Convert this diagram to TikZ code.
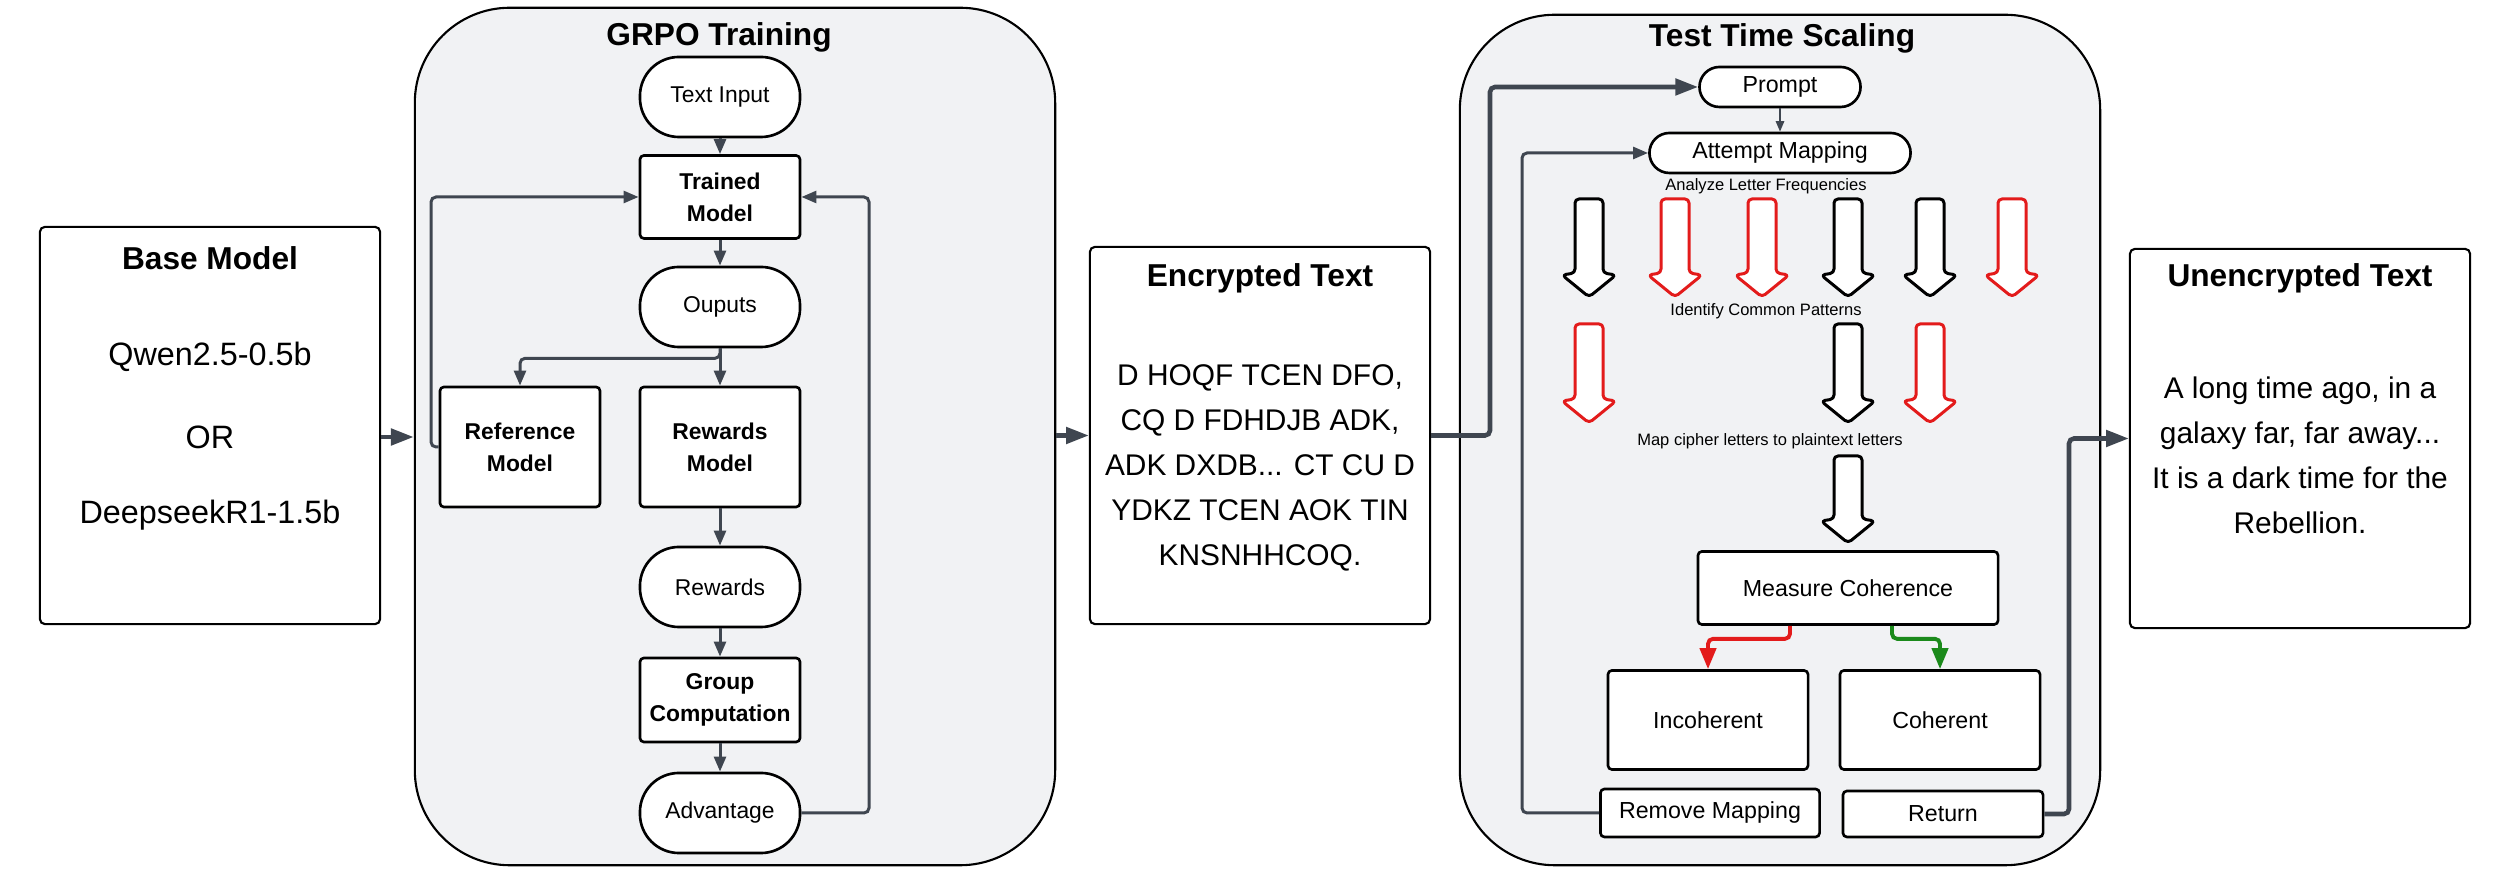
\documentclass[tikz,border=0pt]{standalone}
\usepackage{fontspec}
\setmainfont{Liberation Sans}
\usetikzlibrary{arrows.meta}

\definecolor{conncol}{HTML}{3F4650}
\definecolor{panelgray}{HTML}{F1F2F4}
\definecolor{badred}{HTML}{E31B1B}
\definecolor{goodgreen}{HTML}{1B8A1B}

\tikzset{
  panel/.style={draw=black, line width=0.6pt, fill=panelgray, rounded corners=0.95cm},
  card/.style={draw=black, line width=0.6pt, fill=white, rounded corners=0.05cm},
  title/.style={font=\bfseries\fontsize{9}{11}\selectfont, inner sep=0pt},
  bigtext/.style={font=\fontsize{9.2}{11}\selectfont, inner sep=0pt},
  cipher/.style={font=\fontsize{8.5}{12.8}\selectfont, align=center, inner sep=0pt},
  box/.style={draw=black, line width=0.75pt, fill=white, rounded corners=0.04cm,
    minimum width=1.6cm, align=center, inner sep=0pt,
    font=\bfseries\fontsize{6.5}{9.1}\selectfont},
  pill/.style={box, rounded corners=0.39cm, minimum height=0.8cm,
    font=\fontsize{6.5}{8}\selectfont},
  step box/.style={draw=black, line width=0.75pt, fill=white, rounded corners=0.04cm,
    align=center, inner sep=0pt, font=\fontsize{6.6}{8}\selectfont},
  step pill/.style={step box, rounded corners=0.2cm, minimum height=0.4cm},
  hint/.style={font=\fontsize{4.7}{6}\selectfont, inner sep=0pt},
  conn/.style={draw=conncol, line width=0.85pt, rounded corners=0.05cm,
    -{Triangle[length=4.3pt, width=3.4pt]}},
  bigconn/.style={conn, line width=1.3pt, -{Triangle[length=6.5pt, width=4.6pt]}},
  thinconn/.style={conn, line width=0.45pt, -{Triangle[length=3pt, width=2.4pt]}},
  blockarrow/.style={line width=0.85pt, fill=white, rounded corners=0.04cm, line join=round}
}

% hollow block arrow pointing down: x, top, tip, colour
\newcommand{\blockdown}[4]{%
  \draw[blockarrow, draw=#4] (#1-14,#2) -- (#1+14,#2) -- (#1+14,#3-24) -- (#1+27,#3-22)
    -- (#1,#3) -- (#1-27,#3-22) -- (#1-14,#3-24) -- cycle;}

\begin{document}
\begin{tikzpicture}[x=0.01cm, y=-0.01cm]
  \useasboundingbox (0,0) rectangle (2509,874);

  % Base model
  \node[card, minimum width=3.4cm, minimum height=3.97cm] (base) at (210,425.5) {};
  \node[title] (basetitle) at (210,258) {Base Model};
  \node[bigtext] (qwen) at (210,357) {Qwen2.5-0.5b};
  \node[bigtext] (orword) at (210,437) {OR};
  \node[bigtext] (deepseek) at (210,515) {DeepseekR1-1.5b};

  % GRPO training
  \node[panel, minimum width=6.4cm, minimum height=8.57cm] (grpo) at (735,436.5) {};
  \node[title] (grpotitle) at (719,37) {GRPO Training};
  \node[pill] (txtin) at (720,97) {Text Input};
  \node[box, minimum height=0.83cm] (trained) at (720,197) {Trained\\Model};
  \node[pill] (ouputs) at (720,307) {Ouputs};
  \node[box, minimum height=1.2cm] (refmodel) at (520,447) {Reference\\Model};
  \node[box, minimum height=1.2cm] (rewmodel) at (720,447) {Rewards\\Model};
  \node[pill] (rewards) at (720,587) {Rewards};
  \node[box, minimum height=0.84cm] (groupcomp) at (720,700) {Group\\Computation};
  \node[pill] (adv) at (720,813) {Advantage};
  \coordinate (lloop) at (431,0);
  \coordinate (rloop) at (869,0);

  \draw[conn] (txtin) -- (trained);
  \draw[conn] (trained) -- (ouputs);
  \draw[conn] (ouputs.south) -- ++(0,10) -| (refmodel.north);
  \draw[conn] (ouputs) -- (rewmodel);
  \draw[conn] (refmodel.west) -- (refmodel.west -| lloop) |- (trained.west);
  \draw[conn] (rewmodel) -- (rewards);
  \draw[conn] (rewards) -- (groupcomp);
  \draw[conn] (groupcomp) -- (adv);
  \draw[conn] (adv.east) -- (adv.east -| rloop) |- (trained.east);

  % Encrypted text
  \node[card, minimum width=3.4cm, minimum height=3.77cm] (enc) at (1260,435.5) {};
  \node[title] (enctitle) at (1260,278) {Encrypted Text};
  \node[cipher] (enctext) at (1260,467.5) {D HOQF TCEN DFO,\\CQ D FDHDJB ADK,\\ADK DXDB... CT CU D\\YDKZ TCEN AOK TIN\\KNSNHHCOQ.};

  % Test time scaling
  \node[panel, minimum width=6.4cm, minimum height=8.5cm] (tts) at (1780,440) {};
  \node[title] (ttstitle) at (1782,38) {Test Time Scaling};
  \node[step pill, minimum width=1.61cm] (prompt) at (1780,87) {Prompt};
  \node[step pill, minimum width=2.61cm] (attempt) at (1780,153) {Attempt Mapping};
  \node[hint] (analyze) at (1766,186) {Analyze Letter Frequencies};
  \blockdown{1589}{199}{297}{black}
  \blockdown{1675}{199}{297}{badred}
  \blockdown{1762}{199}{297}{badred}
  \blockdown{1848}{199}{297}{black}
  \blockdown{1930}{199}{297}{black}
  \blockdown{2012}{199}{297}{badred}
  \node[hint] (identify) at (1766,311) {Identify Common Patterns};
  \blockdown{1589}{324}{423}{badred}
  \blockdown{1848}{324}{423}{black}
  \blockdown{1930}{324}{423}{badred}
  \node[hint] (mapletters) at (1770,441) {Map cipher letters to plaintext letters};
  \blockdown{1848}{456}{543}{black}
  \node[step box, minimum width=3cm, minimum height=0.73cm] (measure) at (1848,588) {Measure Coherence};
  \node[step box, minimum width=2cm, minimum height=0.99cm] (incoh) at (1708,720) {Incoherent};
  \node[step box, minimum width=2cm, minimum height=0.99cm] (coh) at (1940,720) {Coherent};
  \node[step box, minimum width=2.19cm, minimum height=0.48cm] (remove) at (1710,813) {Remove Mapping};
  \node[step box, minimum width=2cm, minimum height=0.46cm] (ret) at (1943,814) {Return};
  \coordinate (encbend) at (1490,0);
  \coordinate (loopx) at (1522,0);
  \coordinate (redx) at (1790,0);
  \coordinate (greenx) at (1892,0);
  \coordinate (retbend) at (2069,0);

  \draw[thinconn] (prompt) -- (attempt);
  \draw[conn, draw=badred, line width=1.1pt, -{Triangle[length=6pt, width=4.6pt]}]
    (measure.south -| redx) -- ++(0,13) -| (incoh.north);
  \draw[conn, draw=goodgreen, line width=1.1pt, -{Triangle[length=6pt, width=4.6pt]}]
    (measure.south -| greenx) -- ++(0,13) -| (coh.north);
  \draw[conn] (remove.west) -- (remove.west -| loopx) |- (attempt.west);

  % Unencrypted text
  \node[card, minimum width=3.4cm, minimum height=3.79cm] (unenc) at (2300,438.5) {};
  \node[title] (unenctitle) at (2300,278) {Unencrypted Text};
  \node[cipher] (unenctext) at (2300,455) {A long time ago, in a\\galaxy far, far away...\\It is a dark time for the\\Rebellion.};

  % links between stages
  \draw[bigconn] ([yshift=-0.115cm]base.east) -- ([yshift=-0.115cm]base.east -| grpo.west);
  \draw[bigconn] (grpo.east |- enc.west) -- (enc.west);
  \draw[bigconn] (enc.east) -- (enc.east -| encbend) |- (prompt.west);
  \draw[bigconn] (ret.east) -- (ret.east -| retbend) |- (unenc.west);
\end{tikzpicture}
\end{document}
